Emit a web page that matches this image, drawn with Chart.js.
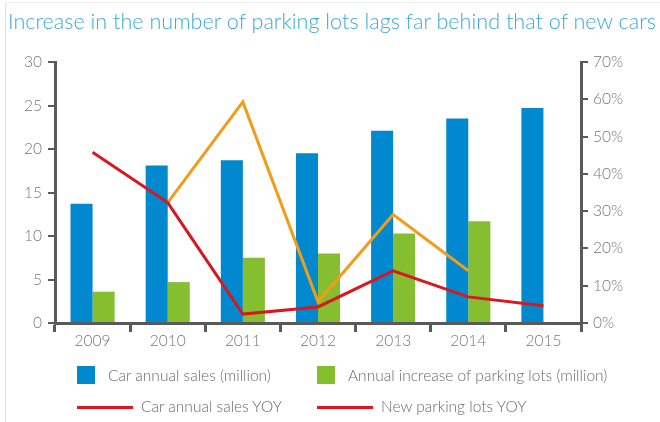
<!DOCTYPE html>
<html>
<head>
<meta charset="utf-8">
<script src="https://cdn.jsdelivr.net/npm/chart.js@4"></script>
<style>
  body { margin: 0; background: #fff; font-family: Lato, sans-serif; }
  #wrap { position: relative; width: 660px; height: 422px; overflow: hidden; }
  #wrap:before { content: ''; position: absolute; left: 5px; top: 2px; bottom: 0; width: 1px; background: #e2e2e2; }
  #wrap:after { content: ''; position: absolute; left: 5px; right: 0; top: 2px; height: 1px; background: #eeeeee; }
  canvas { position: absolute; left: 0; top: 0; }
  .title { position: absolute; left: 8px; top: 8px; font-size: 21.6px; font-weight: 300; color: #3aa9de; white-space: nowrap; }
  .lg { position: absolute; font-size: 15.5px; font-weight: 300; color: #6a6a6a; white-space: nowrap; }
  .sw { position: absolute; }
</style>
</head>
<body>
<div id="wrap">
  <canvas id="chart" width="660" height="422"></canvas>
  <div class="title">Increase in the number of parking lots lags far behind that of new cars</div>
  <div id="legend"></div>
</div>
<script>
// data
const years = ['2009', '2010', '2011', '2012', '2013', '2014', '2015'];
const carSales = [13.7, 18.1, 18.7, 19.5, 22.1, 23.5, 24.7];          // million
const parkingIncrease = [3.6, 4.7, 7.5, 8.0, 10.3, 11.7, null];      // million
const carSalesYoy = [45.8, 32.3, 2.4, 4.3, 14.0, 7.0, 4.6];           // %
const parkingYoy = [null, 32.3, 59.3, 5.7, 29.1, 14.0, null];         // %

const blue = '#0089cf';
const green = '#85bf2f';
const red = '#d7191f';
const orange = '#f39c1a';
const axisColor = '#5a5a5a';
const labelColor = '#777';

// legend (HTML, placed like the original)
const legendItems = [
    { text: 'Car annual sales (million)', color: blue, kind: 'box', x: 77, y: 366 },
    { text: 'Annual increase of parking lots (million)', color: green, kind: 'box', x: 317, y: 366 },
    { text: 'Car annual sales YOY', color: red, kind: 'line', x: 77, y: 406 },
    { text: 'New parking lots YOY', color: red, kind: 'line', x: 317, y: 406 }
];
const legendDiv = document.getElementById('legend');
legendDiv.innerHTML = legendItems.map(item => {
    if (item.kind === 'box') {
        return `<div class="sw" style="left:${item.x}px;top:${item.y}px;width:18px;height:18px;background:${item.color}"></div>
                <div class="lg" style="left:${item.x + 31}px;top:${item.y}px;line-height:18px">${item.text}</div>`;
    }
    return `<div class="sw" style="left:${item.x}px;top:${item.y}px;width:56px;height:3px;background:${item.color}"></div>
            <div class="lg" style="left:${item.x + 64}px;top:${item.y - 9}px;line-height:18px">${item.text}</div>`;
}).join('');

Chart.defaults.font.family = 'Lato, sans-serif';

new Chart(document.getElementById('chart').getContext('2d'), {
    type: 'bar',
    data: {
        labels: years,
        datasets: [
            { type: 'line', label: 'Car annual sales YOY', data: carSalesYoy, yAxisID: 'y1',
              borderColor: red, backgroundColor: red, borderWidth: 3, pointRadius: 0, tension: 0, order: 0 },
            { type: 'line', label: 'New parking lots YOY', data: parkingYoy, yAxisID: 'y1',
              borderColor: orange, backgroundColor: orange, borderWidth: 3, pointRadius: 0, tension: 0, order: 1 },
            { label: 'Car annual sales (million)', data: carSales, backgroundColor: blue, yAxisID: 'y',
              barPercentage: 1, categoryPercentage: 0.587, order: 2 },
            { label: 'Annual increase of parking lots (million)', data: parkingIncrease, backgroundColor: green, yAxisID: 'y',
              barPercentage: 1, categoryPercentage: 0.587, order: 3 }
        ]
    },
    options: {
        responsive: false,
        animation: false,
        layout: { padding: { top: 62, left: 0, right: 0, bottom: 0 } },
        plugins: {
            legend: { display: false },
            tooltip: { enabled: false }
        },
        scales: {
            x: {
                offset: true,
                grid: { offset: true, drawOnChartArea: false, color: axisColor, lineWidth: 3, tickLength: 9 },
                border: { color: axisColor, width: 3 },
                ticks: { color: labelColor, font: { size: 15.5, weight: 300 }, padding: 0 },
                afterFit: s => { s.height = 99; }
            },
            y: {
                position: 'left',
                min: 0, max: 30,
                grid: { drawOnChartArea: false, color: axisColor, lineWidth: 2, tickLength: 7 },
                border: { color: axisColor, width: 3 },
                ticks: { stepSize: 5, color: labelColor, font: { size: 15.5, weight: 300 }, padding: 6 },
                afterFit: s => { s.width = 55; }
            },
            y1: {
                position: 'right',
                min: 0, max: 70,
                grid: { drawOnChartArea: false, color: axisColor, lineWidth: 2, tickLength: 7 },
                border: { color: axisColor, width: 3 },
                ticks: { stepSize: 10, color: labelColor, font: { size: 15.5, weight: 300 }, padding: 5,
                         callback: v => v + '%' },
                afterFit: s => { s.width = 79; }
            }
        }
    }
});
</script>
</body>
</html>
